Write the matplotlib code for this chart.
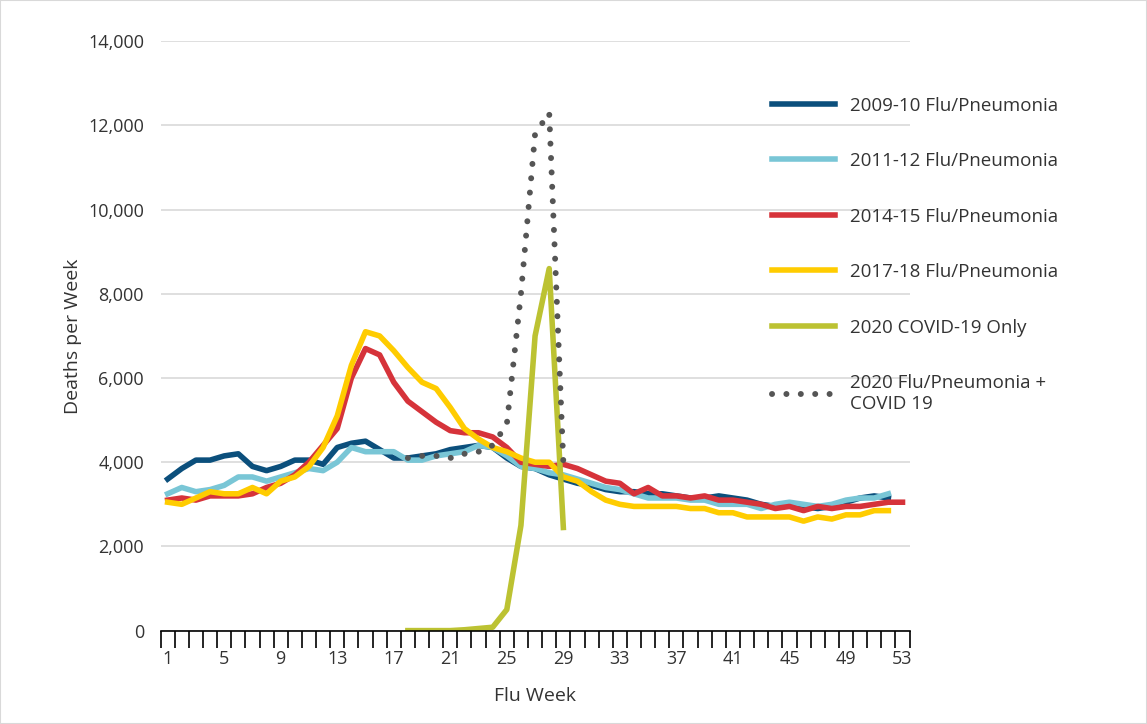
import matplotlib.pyplot as plt
import numpy as np

plt.rcParams['font.family'] = ['Open Sans', 'DejaVu Sans']

flu_0910 = [3600, 3850, 4050, 4050, 4150, 4200, 3900, 3800, 3900, 4050, 4050, 3950, 4350, 4450, 4500,
            4300, 4100, 4100, 4150, 4200, 4300, 4350, 4400, 4350, 4100, 3900, 3850, 3700, 3600, 3500,
            3450, 3350, 3300, 3300, 3250, 3250, 3200, 3150, 3150, 3200, 3150, 3100, 3000, 2950, 3000,
            2950, 2900, 2950, 3050, 3150, 3200, 3150]
flu_1112 = [3250, 3400, 3300, 3350, 3450, 3650, 3650, 3550, 3650, 3750, 3850, 3800, 4000, 4350, 4250,
            4250, 4250, 4050, 4050, 4150, 4200, 4250, 4400, 4350, 4150, 3900, 3850, 3750, 3700, 3600,
            3500, 3400, 3350, 3250, 3150, 3150, 3150, 3100, 3100, 3000, 3000, 3000, 2900, 3000, 3050,
            3000, 2950, 3000, 3100, 3150, 3150, 3250]
flu_1415 = [3100, 3150, 3100, 3200, 3200, 3200, 3250, 3400, 3500, 3700, 4000, 4400, 4800, 6000, 6700,
            6550, 5900, 5450, 5200, 4950, 4750, 4700, 4700, 4600, 4350, 4000, 3950, 3900, 3950, 3850,
            3700, 3550, 3500, 3250, 3400, 3200, 3200, 3150, 3200, 3100, 3100, 3050, 3000, 2900, 2950,
            2850, 2950, 2900, 2950, 2950, 3000, 3050, 3050]
flu_1718 = [3050, 3000, 3150, 3300, 3250, 3250, 3400, 3250, 3550, 3650, 3900, 4350, 5100, 6300, 7100,
            7000, 6650, 6250, 5900, 5750, 5300, 4800, 4550, 4350, 4250, 4100, 4000, 4000, 3650, 3550,
            3300, 3100, 3000, 2950, 2950, 2950, 2950, 2900, 2900, 2800, 2800, 2700, 2700, 2700, 2700,
            2600, 2700, 2650, 2750, 2750, 2850, 2850]
covid_weeks = list(range(18, 30))
covid_only = [0, 0, 0, 0, 20, 50, 80, 500, 2500, 7000, 8600, 2450]
flu_covid = [4100, 4150, 4150, 4100, 4200, 4250, 4400, 4900, 8000, 11800, 12300, 4000]

fig = plt.figure(figsize=(11.47, 7.24), dpi=100)
ax = fig.add_axes([0.14, 0.129, 0.653, 0.814])

series = [
    (flu_0910, '#0b4f7c', '2009-10 Flu/Pneumonia'),
    (flu_1112, '#79c6d6', '2011-12 Flu/Pneumonia'),
    (flu_1415, '#d6333a', '2014-15 Flu/Pneumonia'),
    (flu_1718, '#ffcc00', '2017-18 Flu/Pneumonia'),
]
for vals, c, lab in series:
    ax.plot(np.arange(1, len(vals) + 1), vals, color=c, lw=4, label=lab)
ax.plot(covid_weeks, covid_only, color='#bcc232', lw=4, label='2020 COVID-19 Only')
ax.plot(covid_weeks, flu_covid, color='#555555', lw=4.3, ls=(0, (0.01, 2.4)),
        dash_capstyle='round', label='2020 Flu/Pneumonia +\nCOVID 19')

ax.set_xlim(0.6, 53.4)
ax.set_ylim(0, 14000)
ax.set_yticks(range(0, 14001, 2000))
ax.set_yticklabels([f'{v:,}' for v in range(0, 14001, 2000)])
ax.set_xticks(range(1, 54, 4))
ax.set_xticks(np.arange(0.5, 54, 1), minor=True)
ax.tick_params(axis='x', which='minor', direction='out', length=12, width=1.2, color='black')
ax.tick_params(axis='x', which='major', length=0, pad=14)
ax.tick_params(axis='y', length=0, pad=12)
ax.tick_params(labelsize=13, colors='#333333')
ax.grid(axis='y', color='#d9d9d9', lw=1.2)
ax.set_axisbelow(True)
for s in ['top', 'right', 'left']:
    ax.spines[s].set_visible(False)
ax.spines['bottom'].set_linewidth(1.2)
ax.set_xlabel('Flu Week', fontsize=14, color='#333333', labelpad=14)
ax.set_ylabel('Deaths per Week', fontsize=14, color='#333333')

ax.legend(loc='upper left', bbox_to_anchor=(0.658, 0.89), bbox_transform=fig.transFigure,
          frameon=False, fontsize=13.5, handlelength=3.4, labelspacing=2.0,
          labelcolor='#333333')

fig.patches.append(plt.Rectangle((0, 0), 1, 1, transform=fig.transFigure, fill=False,
                                 edgecolor='#d9d9d9', lw=1.5))
fig.savefig('out.png', dpi=100)
